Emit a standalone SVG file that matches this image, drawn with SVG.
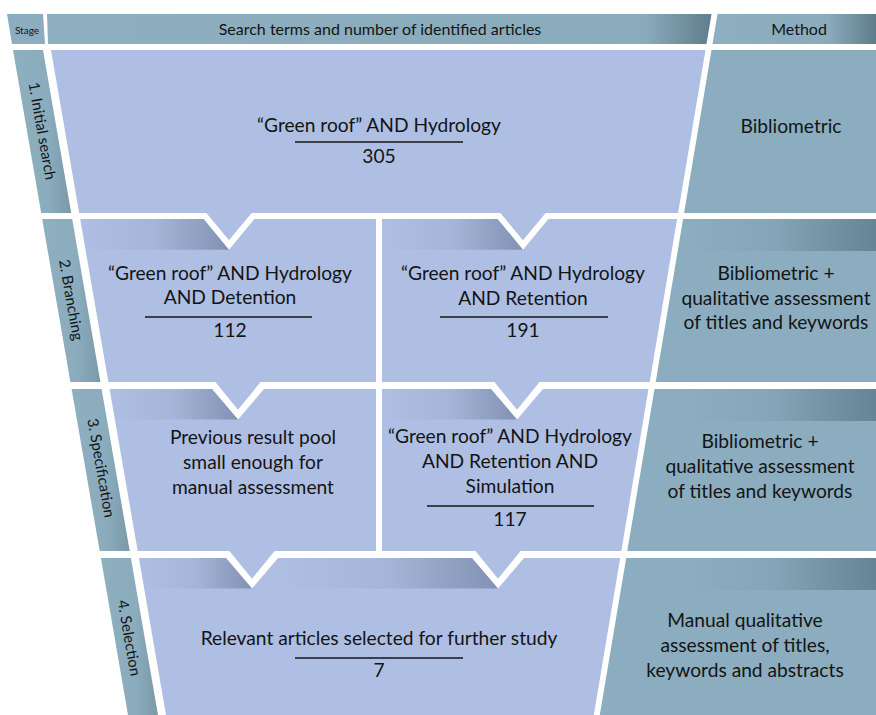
<svg xmlns="http://www.w3.org/2000/svg" width="876" height="715" viewBox="0 0 876 715">
<defs>
<style>
.blue{fill:#AEBFE3}
.teal{fill:#8BADBF}
.t{font-family:Lato,"Open Sans","Liberation Sans",sans-serif;fill:#141414;text-anchor:middle}
.m{font-size:19.2px}
.h{font-size:16px}
.s{font-size:15px}
.rule{stroke:#141414;stroke-width:1.3}
</style>
<linearGradient id="barG" x1="0" y1="0" x2="1" y2="0">
<stop offset="0" stop-color="#8DAFC0"/><stop offset="0.6" stop-color="#8AACBD"/><stop offset="1" stop-color="#7A99A8"/>
</linearGradient>
<linearGradient id="hdrMain" gradientUnits="userSpaceOnUse" x1="47" y1="0" x2="712" y2="0">
<stop offset="0" stop-color="#8DAFC0"/><stop offset="0.9" stop-color="#8AABBC"/><stop offset="1" stop-color="#5F7D8C"/>
</linearGradient>
<linearGradient id="hdrMeth" gradientUnits="userSpaceOnUse" x1="717" y1="0" x2="876" y2="0">
<stop offset="0" stop-color="#8DAFC0"/><stop offset="0.7" stop-color="#8AABBC"/><stop offset="1" stop-color="#5F7D8C"/>
</linearGradient>
<linearGradient id="methShade" gradientUnits="userSpaceOnUse" x1="690" y1="0" x2="876" y2="0">
<stop offset="0" stop-color="#5C7A8A" stop-opacity="0"/><stop offset="0.45" stop-color="#5C7A8A" stop-opacity="0.15"/><stop offset="1" stop-color="#5C7A8A" stop-opacity="0.8"/>
</linearGradient>
<linearGradient id="shd" x1="0" y1="0" x2="1" y2="0">
<stop offset="0" stop-color="#5E6C8C" stop-opacity="0"/><stop offset="0.5" stop-color="#5E6C8C" stop-opacity="0.12"/><stop offset="1" stop-color="#5E6C8C" stop-opacity="0.55"/>
</linearGradient>
</defs>
<rect width="876" height="715" fill="#FFFFFF"/>

<g id="stage-header">
<polygon points="7,14 43,14 45,44 12,44" class="teal"/>
<text class="t" x="27" y="33.5" font-size="10">Stage</text>
</g>
<g id="terms-header">
<polygon points="47,14 711.5,14 706.5,44 48,44" fill="url(#hdrMain)"/>
<text class="t h" x="380" y="35">Search terms and number of identified articles</text>
</g>
<g id="method-header">
<polygon points="717.5,14 876,14 876,44 712.5,44" fill="url(#hdrMeth)"/>
<text class="t h" x="799" y="35">Method</text>
</g>

<g id="stage-1">
<polygon points="13,50 43,50 71.2,213 41.2,213" fill="url(#barG)"/>
<text class="t s" transform="translate(42,131) rotate(80)" x="0" y="5">1. Initial search</text>
</g>
<g id="stage-2">
<polygon points="42.2,219 72.2,219 100.4,382 70.4,382" fill="url(#barG)"/>
<text class="t s" transform="translate(71,300) rotate(80)" x="0" y="5">2. Branching</text>
</g>
<g id="stage-3">
<polygon points="71.6,389 101.6,389 129.7,551 99.7,551" fill="url(#barG)"/>
<text class="t s" transform="translate(101,468) rotate(80)" x="0" y="5">3. Specification</text>
</g>
<g id="stage-4">
<polygon points="100.9,558 130.9,558 158,715 128,715" fill="url(#barG)"/>
<text class="t s" transform="translate(129,638) rotate(80)" x="0" y="5">4. Selection</text>
</g>

<g id="search-1">
<polygon class="blue" points="51,50 705.5,50 678.1,213 545.6,213 523,240.3 500.4,213 251.6,213 229,240.3 206.4,213 79.2,213"/>
<text class="t m" x="379" y="132">“Green roof” AND Hydrology</text>
<line class="rule" x1="295" y1="142" x2="463" y2="142"/>
<text class="t m" x="379" y="163">305</text>
</g>

<g id="search-2a">
<polygon class="blue" points="80.2,219 203.6,219 229,249.7 254.4,219 376,219 376,382 260.6,382 238,409.8 215.4,382 108.4,382"/>
<text class="t m" x="230" y="280">“Green roof” AND Hydrology</text>
<text class="t m" x="230" y="304">AND Detention</text>
<line class="rule" x1="145" y1="317" x2="312" y2="317"/>
<text class="t m" x="230" y="337">112</text>
</g>

<g id="search-2b">
<polygon class="blue" points="382,219 497.6,219 523,249.7 548.4,219 677.1,219 649.7,382 539.6,382 517,409.8 494.4,382 382,382"/>
<text class="t m" x="523" y="280">“Green roof” AND Hydrology</text>
<text class="t m" x="523" y="305">AND Retention</text>
<line class="rule" x1="440" y1="317" x2="608" y2="317"/>
<text class="t m" x="523" y="337">191</text>
</g>

<g id="search-3a">
<polygon class="blue" points="109.6,389 212,389 238,419.5 264,389 376,389 376,551 274.6,551 252,578.8 229.4,551 137.7,551"/>
<text class="t m" x="253" y="444">Previous result pool</text>
<text class="t m" x="253" y="469">small enough for</text>
<text class="t m" x="253" y="494">manual assessment</text>
</g>

<g id="search-3b">
<polygon class="blue" points="382,389 491,389 517,419.5 543,389 648.5,389 621.3,551 520.6,551 498,578.8 475.4,551 382,551"/>
<text class="t m" x="510" y="443">“Green roof” AND Hydrology</text>
<text class="t m" x="510" y="468">AND Retention AND</text>
<text class="t m" x="510" y="493">Simulation</text>
<line class="rule" x1="427" y1="506" x2="594" y2="506"/>
<text class="t m" x="510" y="526">117</text>
</g>

<g id="search-4">
<polygon class="blue" points="138.9,558 226,558 252,588.5 278,558 472,558 498,588.5 524,558 620.2,558 593.8,715 166,715"/>
<text class="t m" x="379" y="645">Relevant articles selected for further study</text>
<line class="rule" x1="295" y1="658" x2="463" y2="658"/>
<text class="t m" x="379" y="677">7</text>
</g>

<g id="connectors">
<polygon fill="url(#shd)" points="80.2,219 203.6,219 229,249.7 85.5,249.7"/>
<polygon fill="url(#shd)" points="382,219 497.6,219 523,249.7 382,249.7"/>
<polygon fill="url(#shd)" points="109.6,389 212,389 238,419.5 114.8,419.5"/>
<polygon fill="url(#shd)" points="382,389 491,389 517,419.5 382,419.5"/>
<polygon fill="url(#shd)" points="138.9,558 226,558 252,588.5 144,588.5"/>
<polygon fill="url(#shd)" points="278,558 472,558 498,588.5 278,588.5"/>
</g>

<g id="method-1">
<polygon class="teal" points="711.5,50 876,50 876,213 684.1,213"/>
<text class="t m" x="791" y="133">Bibliometric</text>
</g>
<g id="method-2">
<polygon class="teal" points="683.1,219 876,219 876,382 655.7,382"/>
<polygon fill="url(#methShade)" points="683.1,219 876,219 876,251 677.7,251"/>
<text class="t m" x="776" y="280">Bibliometric +</text>
<text class="t m" x="776" y="305">qualitative assessment</text>
<text class="t m" x="776" y="329">of titles and keywords</text>
</g>
<g id="method-3">
<polygon class="teal" points="654.5,389 876,389 876,551 627.3,551"/>
<polygon fill="url(#methShade)" points="654.5,389 876,389 876,421 649.1,421"/>
<text class="t m" x="760" y="448">Bibliometric +</text>
<text class="t m" x="760" y="473">qualitative assessment</text>
<text class="t m" x="760" y="498">of titles and keywords</text>
</g>
<g id="method-4">
<polygon class="teal" points="626.2,558 876,558 876,715 599.8,715"/>
<polygon fill="url(#methShade)" points="626.2,558 876,558 876,590 620.8,590"/>
<text class="t m" x="745" y="627">Manual qualitative</text>
<text class="t m" x="745" y="652">assessment of titles,</text>
<text class="t m" x="745" y="677">keywords and abstracts</text>
</g>
</svg>
